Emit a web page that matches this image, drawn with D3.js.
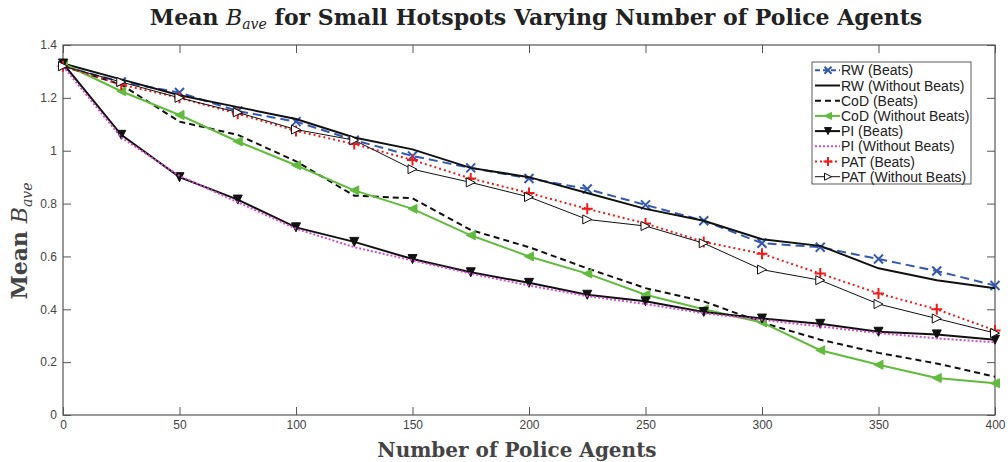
<!DOCTYPE html>
<html lang="en">
<head>
<meta charset="UTF-8">
<title>Mean B_ave for Small Hotspots</title>
<script src="https://d3js.org/d3.v7.min.js"></script>
<style>
  body { margin: 0; background: #fff; }
  svg text { fill: #222; }
  .tick text { font-family: "Liberation Sans", Arial, sans-serif; font-size: 12px; fill: #444; }
  .tick line { stroke: #555; }
  .domain { display: none; }
</style>
</head>
<body>
<svg id="chart" width="1008" height="462"></svg>
<script>
// x values (number of police agents)
const agents = [0, 25, 50, 75, 100, 125, 150, 175, 200, 225, 250, 275, 300, 325, 350, 375, 400];

const rwBeats     = [1.32, 1.26, 1.22, 1.15, 1.11, 1.04, 0.98, 0.935, 0.895, 0.855, 0.795, 0.735, 0.65, 0.635, 0.59, 0.545, 0.49];
const rwNoBeats   = [1.33, 1.27, 1.21, 1.165, 1.12, 1.05, 1.005, 0.935, 0.90, 0.84, 0.78, 0.735, 0.665, 0.64, 0.555, 0.51, 0.48];
const codBeats    = [1.32, 1.25, 1.11, 1.06, 0.96, 0.83, 0.82, 0.70, 0.635, 0.555, 0.48, 0.43, 0.35, 0.285, 0.235, 0.195, 0.145];
const codNoBeats  = [1.33, 1.225, 1.135, 1.035, 0.945, 0.85, 0.78, 0.68, 0.60, 0.535, 0.455, 0.40, 0.35, 0.245, 0.19, 0.14, 0.12];
const piBeats     = [1.33, 1.06, 0.90, 0.815, 0.71, 0.655, 0.59, 0.54, 0.50, 0.455, 0.43, 0.39, 0.365, 0.345, 0.315, 0.305, 0.285];
const piNoBeats   = [1.32, 1.05, 0.905, 0.805, 0.705, 0.635, 0.585, 0.535, 0.49, 0.45, 0.42, 0.385, 0.36, 0.335, 0.31, 0.29, 0.275];
const patBeats    = [1.32, 1.25, 1.20, 1.14, 1.075, 1.025, 0.965, 0.895, 0.84, 0.78, 0.725, 0.655, 0.61, 0.535, 0.46, 0.40, 0.32];
const patNoBeats  = [1.32, 1.26, 1.20, 1.145, 1.08, 1.04, 0.93, 0.88, 0.825, 0.74, 0.715, 0.65, 0.55, 0.51, 0.42, 0.365, 0.31];

const xTicks = [0, 50, 100, 150, 200, 250, 300, 350, 400];
const yTicks = [0, 0.2, 0.4, 0.6, 0.8, 1, 1.2, 1.4];

const series = [
  { name: "RW (Beats)",            values: rwBeats,    color: "#3558b0", width: 2,   dash: "9,5", marker: "x" },
  { name: "RW (Without Beats)",    values: rwNoBeats,  color: "#111",    width: 2,   dash: null,  marker: null },
  { name: "CoD (Beats)",           values: codBeats,   color: "#111",    width: 2,   dash: "6,4", marker: null },
  { name: "CoD (Without Beats)",   values: codNoBeats, color: "#62bb3e", width: 2,   dash: null,  marker: "left" },
  { name: "PI (Beats)",            values: piBeats,    color: "#111",    width: 2,   dash: null,  marker: "down" },
  { name: "PI (Without Beats)",    values: piNoBeats,  color: "#d04fc8", width: 2,   dash: "2,2", marker: null },
  { name: "PAT (Beats)",           values: patBeats,   color: "#f01c1c", width: 2,   dash: "2,3", marker: "plus" },
  { name: "PAT (Without Beats)",   values: patNoBeats, color: "#111",    width: 1,   dash: null,  marker: "right" }
];

const mLeft = 63, mRight = 995, mTop = 45, mBottom = 415;

const svg = d3.select("#chart");

const x = d3.scaleLinear().domain([0, 400]).range([mLeft, mRight]);
const y = d3.scaleLinear().domain([0, 1.4]).range([mBottom, mTop]);

// axes box
svg.append("rect")
  .attr("x", mLeft).attr("y", mTop)
  .attr("width", mRight - mLeft).attr("height", mBottom - mTop)
  .attr("fill", "none").attr("stroke", "#555").attr("stroke-width", 1.2);

const fmt = d => d3.format("~g")(d);

svg.append("g")
  .attr("transform", `translate(0,${mBottom})`)
  .call(d3.axisBottom(x).tickValues(xTicks).tickFormat(fmt).tickSizeInner(-8).tickSizeOuter(0).tickPadding(5));
svg.append("g")
  .attr("transform", `translate(0,${mTop})`)
  .call(d3.axisTop(x).tickValues(xTicks).tickFormat("").tickSizeInner(-8).tickSizeOuter(0));
svg.append("g")
  .attr("transform", `translate(${mLeft},0)`)
  .call(d3.axisLeft(y).tickValues(yTicks).tickFormat(fmt).tickSizeInner(-8).tickSizeOuter(0).tickPadding(6));
svg.append("g")
  .attr("transform", `translate(${mRight},0)`)
  .call(d3.axisRight(y).tickValues(yTicks).tickFormat("").tickSizeInner(-8).tickSizeOuter(0));

// title and axis labels
const title = svg.append("text")
  .attr("x", 536).attr("y", 25)
  .attr("text-anchor", "middle")
  .style("font-family", "'DejaVu Serif', 'Liberation Serif', serif")
  .style("font-weight", "bold").style("font-size", "22px");
title.append("tspan").text("Mean ");
title.append("tspan").text("B").style("font-style", "italic").style("font-weight", "normal");
title.append("tspan").text("ave").attr("dy", 4).style("font-size", "14px").style("font-style", "italic").style("font-weight", "normal");
title.append("tspan").text(" for Small Hotspots Varying Number of Police Agents").attr("dy", -4);

svg.append("text")
  .attr("x", 517).attr("y", 457)
  .attr("text-anchor", "middle")
  .style("font-family", "'DejaVu Serif', 'Liberation Serif', serif")
  .style("font-weight", "bold").style("font-size", "20px").style("fill", "#444")
  .text("Number of Police Agents");

const ylab = svg.append("text")
  .attr("transform", "translate(27,241) rotate(-90)")
  .attr("text-anchor", "middle")
  .style("font-family", "'DejaVu Serif', 'Liberation Serif', serif")
  .style("font-weight", "bold").style("font-size", "22px").style("fill", "#444");
ylab.append("tspan").text("Mean ");
ylab.append("tspan").text("B").style("font-style", "italic").style("font-weight", "normal");
ylab.append("tspan").text("ave").attr("dy", 5).style("font-size", "14px").style("font-style", "italic").style("font-weight", "normal");

// markers
function drawMarker(g, type, cx, cy, color, s) {
  if (type === "x") {
    g.append("path").attr("d", `M${cx - s},${cy - s}L${cx + s},${cy + s}M${cx - s},${cy + s}L${cx + s},${cy - s}`)
      .attr("stroke", color).attr("stroke-width", 2).attr("fill", "none");
  } else if (type === "plus") {
    g.append("path").attr("d", `M${cx - s - 1},${cy}L${cx + s + 1},${cy}M${cx},${cy - s - 1}L${cx},${cy + s + 1}`)
      .attr("stroke", color).attr("stroke-width", 2).attr("fill", "none");
  } else if (type === "left") {
    g.append("path").attr("d", `M${cx - s},${cy}L${cx + s},${cy - s}L${cx + s},${cy + s}Z`)
      .attr("fill", color).attr("stroke", color);
  } else if (type === "down") {
    g.append("path").attr("d", `M${cx - s},${cy - s}L${cx + s},${cy - s}L${cx},${cy + s}Z`)
      .attr("fill", color).attr("stroke", color);
  } else if (type === "right") {
    g.append("path").attr("d", `M${cx + s},${cy}L${cx - s},${cy - s}L${cx - s},${cy + s}Z`)
      .attr("fill", "#fff").attr("stroke", color).attr("stroke-width", 1);
  }
}

const line = d3.line().x((d, i) => x(agents[i])).y(d => y(d));

series.forEach(s => {
  const g = svg.append("g");
  g.append("path")
    .datum(s.values)
    .attr("d", line)
    .attr("fill", "none")
    .attr("stroke", s.color)
    .attr("stroke-width", s.width)
    .attr("stroke-dasharray", s.dash);
  if (s.marker) {
    s.values.forEach((v, i) => drawMarker(g, s.marker, x(agents[i]), y(v), s.color, 4.5));
  }
});

// legend
const lg = svg.append("g").attr("transform", "translate(812,62)");
lg.append("rect").attr("width", 159).attr("height", 122)
  .attr("fill", "#fff").attr("stroke", "#333").attr("stroke-width", 0.8);
series.forEach((s, i) => {
  const cy = 8.3 + i * 15.2;
  lg.append("line").attr("x1", 3).attr("x2", 28).attr("y1", cy).attr("y2", cy)
    .attr("stroke", s.color).attr("stroke-width", s.width)
    .attr("stroke-dasharray", s.dash ? (s.marker === "x" ? "5,3" : s.dash) : null);
  if (s.marker) drawMarker(lg, s.marker, 16, cy, s.color, 3.5);
  lg.append("text").attr("x", 29).attr("y", cy + 5)
    .style("font-family", "'Liberation Sans', Arial, sans-serif").style("font-size", "14px")
    .text(s.name);
});
</script>
</body>
</html>
